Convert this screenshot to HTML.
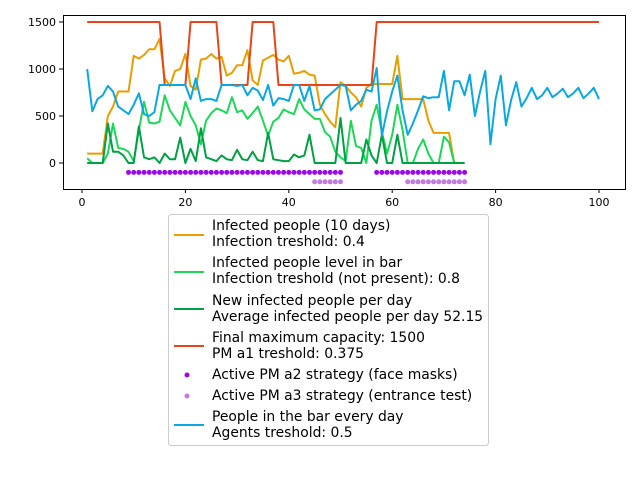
<!DOCTYPE html>
<html><head><meta charset="utf-8"><style>
body{margin:0;background:#fff}
svg{display:block;font-family:"DejaVu Sans","Liberation Sans",sans-serif}
</style></head><body>
<svg id="chart" width="640" height="480">
<g id="plot"></g>
<g id="legend" font-size="13.9">
<rect x="168.5" y="214.5" width="320" height="231" rx="3" fill="#fff" stroke="#ccc"/>
<line x1="174" y1="235" x2="204" y2="235" stroke="#e69f00" stroke-width="2"/>
<text x="212" y="230">Infected people (10 days)</text>
<text x="212" y="246">Infection treshold: 0.4</text>
<line x1="174" y1="272" x2="204" y2="272" stroke="#1fd65a" stroke-width="2"/>
<text x="212" y="267">Infected people level in bar</text>
<text x="212" y="283">Infection treshold (not present): 0.8</text>
<line x1="174" y1="309" x2="204" y2="309" stroke="#00a045" stroke-width="2"/>
<text x="212" y="305">New infected people per day</text>
<text x="212" y="321">Average infected people per day 52.15</text>
<line x1="174" y1="346" x2="204" y2="346" stroke="#e5461a" stroke-width="2"/>
<text x="212" y="342">Final maximum capacity: 1500</text>
<text x="212" y="358">PM a1 treshold: 0.375</text>
<circle cx="187" cy="375" r="2.5" fill="#9b0ae6"/>
<text x="212" y="379">Active PM a2 strategy (face masks)</text>
<circle cx="187" cy="396" r="2.5" fill="#c27be0"/>
<text x="212" y="400">Active PM a3 strategy (entrance test)</text>
<line x1="174" y1="425" x2="204" y2="425" stroke="#0ba8e0" stroke-width="2"/>
<text x="212" y="421">People in the bar every day</text>
<text x="212" y="437">Agents treshold: 0.5</text>
</g>
</svg>
<script>
const xTicks=[0,20,40,60,80,100];
const yTicks=[0,500,1000,1500];
const orange=[100,100,100,100,500,600,760,760,760,1140,1110,1150,1210,1210,1320,900,820,980,1000,1160,820,780,1100,1110,1160,1110,1130,930,960,1040,1040,1200,880,830,1090,1120,1150,1100,1080,1140,950,960,980,940,930,620,520,440,380,860,820,750,700,600,800,840,840,840,840,840,1140,680,680,680,680,680,450,320,320,320,320,0,0,0];
const lightGreen=[50,0,0,0,100,420,160,150,120,20,350,650,430,420,440,720,560,480,400,650,500,400,200,450,530,580,560,530,700,540,560,470,530,600,450,290,440,480,570,540,520,680,570,520,470,470,330,280,120,60,20,450,180,160,0,450,620,330,100,300,620,350,0,0,150,250,100,0,0,280,220,0,0,0];
const darkGreen=[0,0,0,0,420,120,120,80,0,0,390,60,40,60,0,100,40,40,270,0,150,20,370,60,40,20,80,40,30,140,40,30,120,30,20,320,40,30,20,20,90,60,80,300,0,0,0,0,0,480,0,0,0,0,250,80,0,300,0,0,300,0,0,0,0,0,0,0,0,0,0,0,0,0];
const blue=[1000,550,680,720,820,760,600,560,520,620,740,520,500,540,830,830,830,830,830,830,680,900,660,680,680,660,830,830,830,820,830,720,800,770,670,830,610,690,680,660,830,830,660,820,560,570,680,730,780,830,820,560,620,660,780,760,1010,290,550,760,930,560,300,420,560,710,690,700,700,980,560,870,870,720,940,500,760,980,200,680,930,400,670,860,600,690,800,680,720,800,700,740,790,700,740,800,690,740,800,680];
const capacity=[1500,1500,1500,1500,1500,1500,1500,1500,1500,1500,1500,1500,1500,1500,1500,830,830,830,830,830,1500,1500,1500,1500,1500,1500,830,830,830,830,830,830,1500,1500,1500,1500,1500,830,830,830,830,830,830,830,830,830,830,830,830,830,830,830,830,830,830,830,1500,1500,1500,1500,1500,1500,1500,1500,1500,1500,1500,1500,1500,1500,1500,1500,1500,1500,1500,1500,1500,1500,1500,1500,1500,1500,1500,1500,1500,1500,1500,1500,1500,1500,1500,1500,1500,1500,1500,1500,1500,1500,1500,1500];
const a2Days=[9,10,11,12,13,14,15,16,17,18,19,20,21,22,23,24,25,26,27,28,29,30,31,32,33,34,35,36,37,38,39,40,41,42,43,44,45,46,47,48,49,50,57,58,59,60,61,62,63,64,65,66,67,68,69,70,71,72,73,74];
const a3Days=[45,46,47,48,49,50,63,64,65,66,67,68,69,70,71,72,73,74];
const L=63,R=625,T=15,B=189;
const xs=v=>82+v*5.17;
const ys=v=>163-v*0.094;
const NS='http://www.w3.org/2000/svg';
const g=document.getElementById('plot');
function mk(t,a,p){const e=document.createElementNS(NS,t);for(const k in a)e.setAttribute(k,a[k]);(p||g).appendChild(e);return e;}
xTicks.forEach(t=>{mk('line',{x1:xs(t),x2:xs(t),y1:B,y2:B+4,stroke:'#000'});const tx=mk('text',{x:xs(t),y:B+17,'font-size':11,'text-anchor':'middle'});tx.textContent=t;

});
yTicks.forEach(t=>{mk('line',{x1:L-4,x2:L,y1:ys(t),y2:ys(t),stroke:'#000'});const tx=mk('text',{x:L-7,y:ys(t)+4,'font-size':11,'text-anchor':'end'});tx.textContent=t;

});
function line(arr,col,name){const p=mk('polyline',{points:arr.map((v,i)=>xs(i+1)+','+ys(v)).join(' '),fill:'none',stroke:col,'stroke-width':2,'stroke-linejoin':'round'});

}
line(orange,'#e69f00','series-infected-10-days');
line(lightGreen,'#1fd65a','series-infected-in-bar');
line(darkGreen,'#00a045','series-new-infected');
line(capacity,'#e5461a','series-capacity');
a2Days.forEach(d=>{const c=mk('circle',{cx:xs(d),cy:ys(-100),r:2.5,fill:'#9b0ae6'});

});
a3Days.forEach(d=>{const c=mk('circle',{cx:xs(d),cy:ys(-200),r:2.5,fill:'#c27be0'});

});
line(blue,'#0ba8e0','series-people-in-bar');
const fr=mk('rect',{x:L+.5,y:T+.5,width:R-L,height:B-T,fill:'none',stroke:'#000'});


</script>
</body></html>
